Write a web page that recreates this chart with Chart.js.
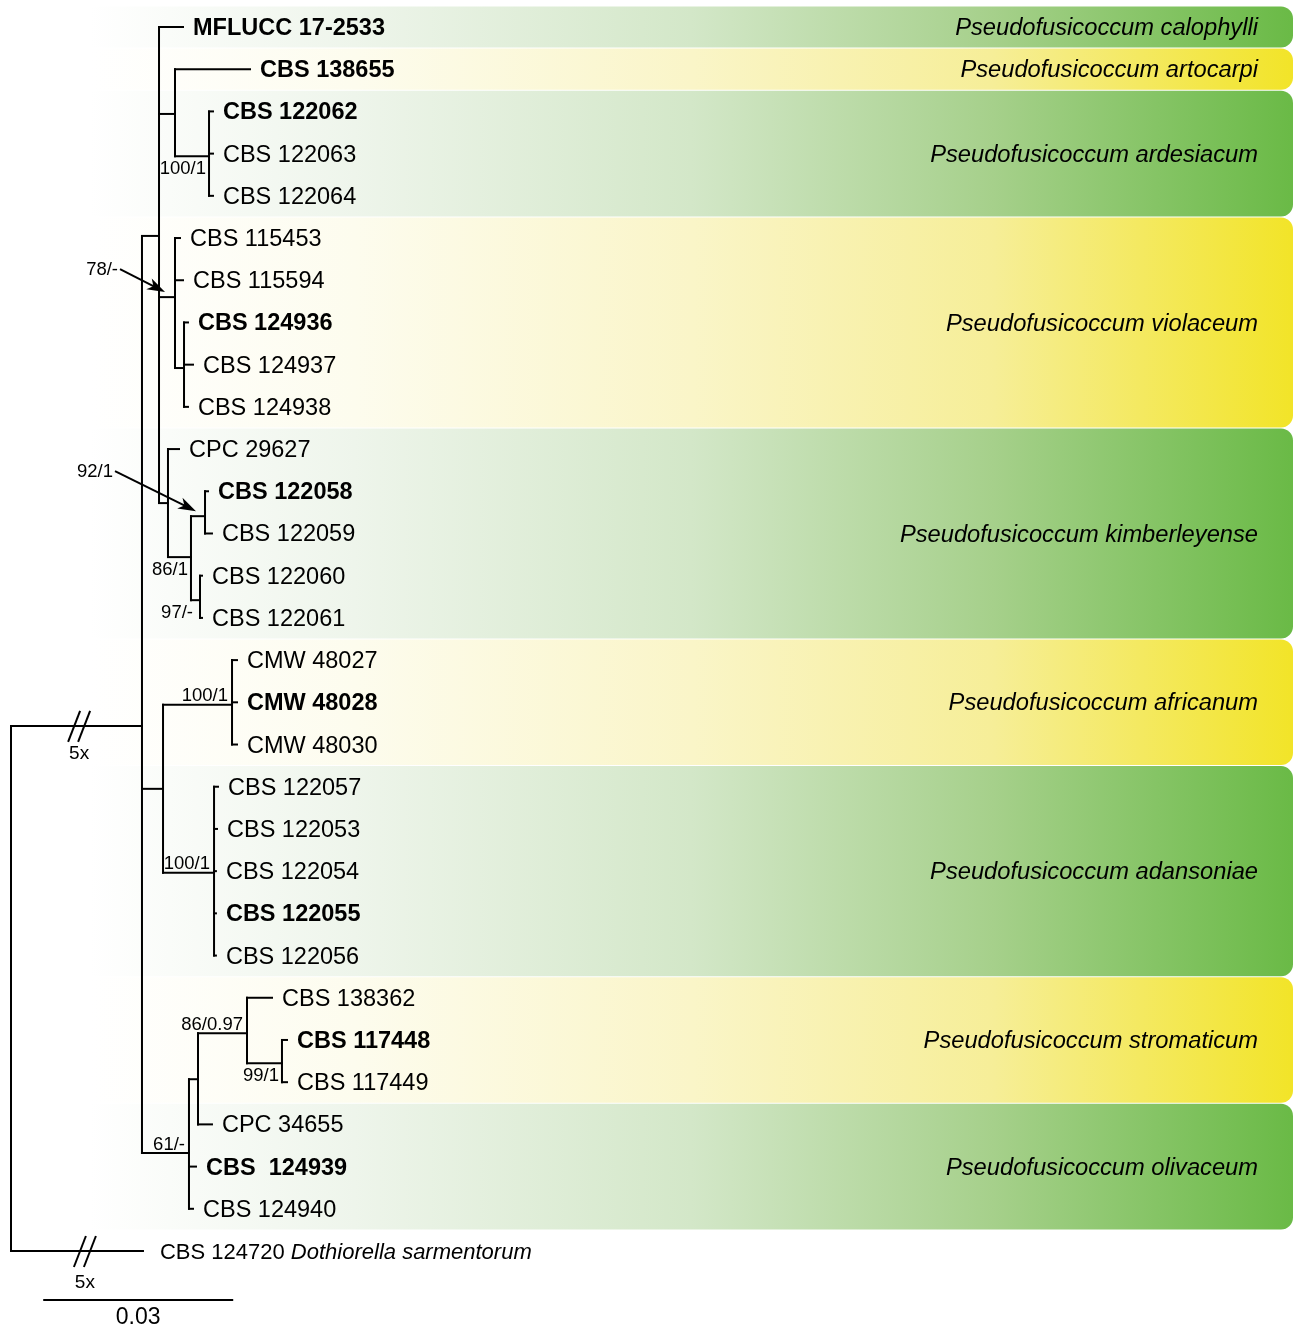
<!DOCTYPE html>
<html>
<head>
<meta charset="utf-8">
<title>Pseudofusicoccum phylogeny</title>
<script src="https://cdn.jsdelivr.net/npm/chart.js@4.4.1/dist/chart.umd.min.js"></script>
<style>
  html, body { margin: 0; padding: 0; background: #fff; }
  canvas { display: block; }
</style>
</head>
<body>
<canvas id="tree" width="1297" height="1329"></canvas>
<script>
// tips, top to bottom (row = index)
const tipNames = [
  'MFLUCC 17-2533', 'CBS 138655', 'CBS 122062', 'CBS 122063', 'CBS 122064',
  'CBS 115453', 'CBS 115594', 'CBS 124936', 'CBS 124937', 'CBS 124938',
  'CPC 29627', 'CBS 122058', 'CBS 122059', 'CBS 122060', 'CBS 122061',
  'CMW 48027', 'CMW 48028', 'CMW 48030',
  'CBS 122057', 'CBS 122053', 'CBS 122054', 'CBS 122055', 'CBS 122056',
  'CBS 138362', 'CBS 117448', 'CBS 117449',
  'CPC 34655', 'CBS  124939', 'CBS 124940',
  'CBS 124720'
];
const tipBold = [
  true, true, true, false, false,
  false, false, true, false, false,
  false, true, false, false, false,
  false, true, false,
  false, false, false, true, false,
  false, true, false,
  false, true, false,
  false
];
// distance from root, substitutions per site (read against the 0.03 bar)
const tipDepths = [
  0.02745, 0.03814, 0.03223, 0.03223, 0.03223,
  0.02697, 0.02745, 0.02824, 0.02904, 0.02824,
  0.02681, 0.03144, 0.03207, 0.03048, 0.03048,
  0.03606, 0.03606, 0.03606,
  0.03303, 0.03287, 0.0327, 0.0327, 0.0327,
  0.04165, 0.04404, 0.04404,
  0.03207, 0.02952, 0.02904,
  0.02106
];
const outgroupSpecies = 'Dothiorella sarmentorum';

// internal nodes
const nodeNames  = ['root', 'A', 'B', 'C', 'D', 'E', 'F', 'G', 'H', 'I', 'J', 'K', 'L', 'M', 'N', 'O', 'P', 'Q'];
const nodeDepths = [0, 0.0209, 0.02362, 0.02617, 0.0316, 0.02617, 0.02761, 0.02505, 0.02872, 0.03096, 0.03016,
                    0.02426, 0.03527, 0.0324, 0.0284, 0.02984, 0.03766, 0.04324];
const nodeRows   = [null, 16.56, 4.95, 2.06, 3.06, 6.40, 8.08, 11.28, 12.56, 11.59, 13.58,
                    18.05, 16.06, 20.04, 26.68, 24.93, 23.84, 24.55];
const nodeKids   = [
  ['A', 29], ['B', 'K', 'N'], [0, 'C', 'E', 'G'], [1, 'D'], [2, 3, 4], [5, 6, 'F'], [7, 8, 9],
  [10, 'H'], ['I', 'J'], [11, 12], [13, 14], ['L', 'M'], [15, 16, 17], [18, 19, 20, 21, 22],
  ['O', 27, 28], ['P', 26], [23, 'Q'], [24, 25]
];

// bootstrap / posterior support
const supportNodes = ['D', 'H', 'J', 'L', 'M', 'P', 'Q', 'N', 'E', 'I'];
const supportText  = ['100/1', '86/1', '97/-', '100/1', '100/1', '86/0.97', '99/1', '61/-', '78/-', '92/1'];
const supportSide  = ['below', 'below', 'below', 'above', 'above', 'above', 'below', 'above', 'arrow', 'arrow'];

// clades
const cladeNames = [
  'Pseudofusicoccum calophylli', 'Pseudofusicoccum artocarpi', 'Pseudofusicoccum ardesiacum',
  'Pseudofusicoccum violaceum', 'Pseudofusicoccum kimberleyense', 'Pseudofusicoccum africanum',
  'Pseudofusicoccum adansoniae', 'Pseudofusicoccum stromaticum', 'Pseudofusicoccum olivaceum'
];
const cladeFirst = [0, 1, 2, 5, 10, 15, 18, 23, 26];
const cladeLast  = [0, 1, 4, 9, 14, 17, 22, 25, 28];
const cladeTone  = ['green', 'yellow', 'green', 'yellow', 'green', 'yellow', 'green', 'yellow', 'green'];

const brokenBranches = ['A', 29];   // shortened 5x
const scaleBarLength = 0.03;

// ---------------------------------------------------------------------

const FONT = '"Liberation Sans", Arial, Helvetica, sans-serif';
const tones = {
  green: [[0, '#ffffff'], [0.22, '#eef5eb'], [0.5, '#d3e7c8'], [0.75, '#a6d08b'], [1, '#6aba46']],
  yellow: [[0, '#ffffff'], [0.22, '#fdfcee'], [0.5, '#faf5c8'], [0.75, '#f6ee98'], [1, '#f2e428']]
};
const arrowFrom = { E: [-47, -24], I: [-83, -41] };
const TY = 1.5;   // nudge text down a bit, canvas 'middle' sits high

const nodeIdx = name => nodeNames.indexOf(name);
const depthOf = ref => typeof ref === 'number' ? tipDepths[ref] : nodeDepths[nodeIdx(ref)];
const rowOf = ref => typeof ref === 'number' ? ref : nodeRows[nodeIdx(ref)];
const parentOf = {};
nodeKids.forEach((kids, i) => kids.forEach(k => { parentOf[k] = nodeNames[i]; }));

// branch segments
const segments = [];
nodeKids.forEach((kids, i) => {
  const rows = kids.map(rowOf);
  const d = nodeDepths[i];
  segments.push([d, Math.min(...rows), d, Math.max(...rows)]);
  kids.forEach(k => segments.push([d, rowOf(k), depthOf(k), rowOf(k)]));
});
const scaleBarAt = 0.0053, scaleBarRow = 30.16;
segments.push([scaleBarAt, scaleBarRow, scaleBarAt + scaleBarLength, scaleBarRow]);

const datasets = segments.map(s => ({
  data: [{ x: s[0], y: s[1] }, { x: s[2], y: s[3] }],
  showLine: true,
  borderColor: '#000',
  borderWidth: 2,
  borderCapStyle: 'square',
  pointRadius: 0,
  pointHoverRadius: 0
}));

const bandPlugin = {
  id: 'cladeBands',
  beforeDatasetsDraw(chart) {
    const { ctx, scales: { y } } = chart;
    const left = 90, right = chart.width - 4, r = 12;
    ctx.save();
    cladeNames.forEach((name, i) => {
      const top = y.getPixelForValue(cladeFirst[i] - 0.5) + 0.5;
      const bot = y.getPixelForValue(cladeLast[i] + 0.5) - 0.5;
      const g = ctx.createLinearGradient(left, 0, right, 0);
      tones[cladeTone[i]].forEach(([p, c]) => g.addColorStop(p, c));
      ctx.fillStyle = g;
      ctx.beginPath();
      ctx.moveTo(left, top);
      ctx.lineTo(right - r, top);
      ctx.arcTo(right, top, right, top + r, r);
      ctx.lineTo(right, bot - r);
      ctx.arcTo(right, bot, right - r, bot, r);
      ctx.lineTo(left, bot);
      ctx.closePath();
      ctx.fill();
    });
    ctx.restore();
  }
};

const labelPlugin = {
  id: 'treeLabels',
  afterDatasetsDraw(chart) {
    const { ctx, scales: { x, y } } = chart;
    ctx.save();
    ctx.fillStyle = '#000';
    ctx.strokeStyle = '#000';
    ctx.textBaseline = 'middle';

    // tip names
    tipNames.forEach((name, i) => {
      const px = x.getPixelForValue(tipDepths[i]) + 10;
      const py = y.getPixelForValue(i) + TY;
      ctx.textAlign = 'left';
      if (i === tipNames.length - 1) {
        ctx.font = '22px ' + FONT;
        const txt = name + ' ';
        ctx.fillText(txt, px + 7, py);
        const w = ctx.measureText(txt).width;
        ctx.font = 'italic 22px ' + FONT;
        ctx.fillText(outgroupSpecies, px + 7 + w, py);
      } else {
        ctx.font = (tipBold[i] ? 'bold ' : '') + '23.5px ' + FONT;
        ctx.fillText(name, px, py);
      }
    });

    // clade names
    ctx.font = 'italic 23.7px ' + FONT;
    ctx.textAlign = 'right';
    cladeNames.forEach((name, i) => {
      const py = y.getPixelForValue((cladeFirst[i] + cladeLast[i]) / 2) + TY;
      ctx.fillText(name, chart.width - 39, py);
    });

    // support values
    ctx.font = '18.5px ' + FONT;
    supportNodes.forEach((n, i) => {
      const k = nodeIdx(n);
      const nx = x.getPixelForValue(nodeDepths[k]);
      const ny = y.getPixelForValue(nodeRows[k]);
      ctx.textAlign = 'right';
      if (supportSide[i] === 'above') {
        ctx.fillText(supportText[i], nx - 4, ny - 10 + TY);
      } else if (supportSide[i] === 'below') {
        ctx.fillText(supportText[i], nx - (n === 'J' ? 7 : 3), ny + 11 + TY);
      } else {
        const px = x.getPixelForValue(depthOf(parentOf[n]));
        const tx = (px + nx) / 2 - 2, ty = ny - 5;
        const [dx, dy] = arrowFrom[n];
        const lx = tx + dx, ly = ty + dy;
        ctx.fillText(supportText[i], lx, ly + TY);
        const sx = lx + 2, sy = ly + 1;
        const ang = Math.atan2(ty - sy, tx - sx);
        const c = Math.cos(ang), s = Math.sin(ang);
        ctx.lineWidth = 2;
        ctx.beginPath();
        ctx.moveTo(sx, sy);
        ctx.lineTo(tx - 12 * c, ty - 12 * s);
        ctx.stroke();
        ctx.beginPath();
        ctx.moveTo(tx, ty);
        ctx.lineTo(tx - 18 * c + 6 * s, ty - 18 * s - 6 * c);
        ctx.lineTo(tx - 13 * c, ty - 13 * s);
        ctx.lineTo(tx - 18 * c - 6 * s, ty - 18 * s + 6 * c);
        ctx.closePath();
        ctx.fill();
      }
    });

    // break marks on shortened branches
    ctx.lineWidth = 2;
    ctx.font = '19px ' + FONT;
    ctx.textAlign = 'center';
    brokenBranches.forEach((ref, j) => {
      const x0 = x.getPixelForValue(depthOf(parentOf[ref]));
      const x1 = x.getPixelForValue(depthOf(ref));
      const cx = x0 + (x1 - x0) * (j === 0 ? 0.52 : 0.56);
      const cy = y.getPixelForValue(rowOf(ref));
      [-5, 5].forEach(off => {
        ctx.beginPath();
        ctx.moveTo(cx + off - 6, cy + 16);
        ctx.lineTo(cx + off + 6, cy - 15);
        ctx.stroke();
      });
      ctx.fillText('5x', cx, cy + (j === 0 ? 28 : 32));
    });

    // scale bar label
    ctx.font = '23px ' + FONT;
    ctx.textAlign = 'center';
    ctx.fillText(String(scaleBarLength),
      x.getPixelForValue(scaleBarAt + scaleBarLength / 2),
      y.getPixelForValue(scaleBarRow) + 16 + TY);
    ctx.restore();
  }
};

const k = scaleBarLength / 188;   // substitutions per pixel
new Chart(document.getElementById('tree'), {
  type: 'scatter',
  data: { datasets },
  options: {
    responsive: false,
    animation: false,
    devicePixelRatio: 1,
    events: [],
    layout: { padding: 0 },
    plugins: { legend: { display: false }, tooltip: { enabled: false } },
    scales: {
      x: { type: 'linear', display: false, min: -11 * k, max: 1286 * k },
      y: { type: 'linear', display: false, reverse: true, min: -27 / 42.207, max: 1302 / 42.207 }
    }
  },
  plugins: [bandPlugin, labelPlugin]
});
</script>
</body>
</html>
